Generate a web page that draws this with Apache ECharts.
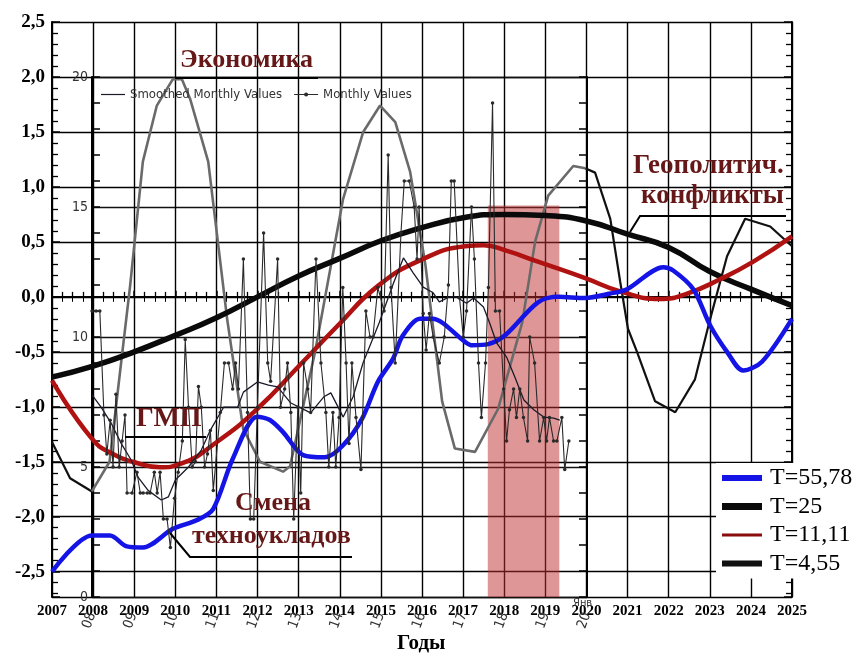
<!DOCTYPE html>
<html>
<head>
<meta charset="utf-8">
<script src="https://cdn.jsdelivr.net/npm/echarts@6.0.0/dist/echarts.min.js"></script>
<style>
  html, body { margin: 0; background: #fff; }
  #main { width: 856px; height: 657px; }
</style>
</head>
<body>
<div id="main"></div>
<script>
let chart = echarts.init(document.getElementById('main'));

//гармоники (основная шкала)
let t5578Years = [2007, 2007.97, 2008.41, 2008.82, 2009.21, 2009.94, 2010.53, 2010.92, 2011.4, 2011.99, 2012.3, 2012.62, 2013.11, 2013.64, 2014.08, 2014.54, 2014.93, 2015.3, 2015.52, 2015.95, 2016.25, 2017.05, 2017.22, 2017.61, 2018.02, 2018.82, 2019.31, 2019.97, 2020.58, 2020.99, 2021.87, 2022.11, 2022.6, 2023.01, 2023.42, 2023.81, 2024.27, 2025];
let t5578Vals = [-2.5, -2.17, -2.17, -2.27, -2.28, -2.11, -2.03, -1.93, -1.47, -1.09, -1.12, -1.23, -1.44, -1.46, -1.35, -1.11, -0.77, -0.56, -0.36, -0.2, -0.2, -0.41, -0.44, -0.43, -0.35, -0.05, 0.0, -0.01, 0.03, 0.07, 0.27, 0.24, 0.07, -0.26, -0.5, -0.67, -0.59, -0.2];

let t25Years = [2007, 2008, 2009, 2010, 2011, 2012, 2013, 2014, 2015, 2016, 2017, 2018, 2019, 2020, 2021, 2022, 2023, 2024, 2025];
let t25Vals = [-0.73, -0.63, -0.5, -0.35, -0.19, 0.0, 0.19, 0.35, 0.51, 0.63, 0.72, 0.75, 0.74, 0.69, 0.57, 0.45, 0.23, 0.07, -0.08];

let t1111Years = [2007, 2007.97, 2008.48, 2008.97, 2009.63, 2010.12, 2011.01, 2011.99, 2013.03, 2013.93, 2014.93, 2016.0, 2017.05, 2017.5, 2018.05, 2018.82, 2019.97, 2020.82, 2021.79, 2022.45, 2023.25, 2024.06, 2025];
let t1111Vals = [-0.76, -1.29, -1.43, -1.5, -1.55, -1.52, -1.32, -1.02, -0.62, -0.27, 0.1, 0.34, 0.46, 0.47, 0.42, 0.32, 0.17, 0.05, -0.02, 0.03, 0.16, 0.32, 0.55];

let t455Years = [2007, 2007.44, 2007.97, 2008.4, 2008.9, 2009.21, 2009.55, 2009.94, 2010.16, 2010.36, 2010.8, 2011.26, 2011.65, 2012.06, 2012.62, 2012.79, 2013.4, 2014.08, 2014.57, 2014.98, 2015.35, 2015.71, 2016.08, 2016.49, 2016.8, 2017.29, 2017.85, 2018.44, 2018.75, 2019.07, 2019.68, 2019.97, 2020.21, 2020.58, 2020.82, 2021.01, 2021.23, 2021.67, 2022.16, 2022.64, 2023.01, 2023.42, 2023.86, 2024.47, 2025];
let t455Vals = [-1.32, -1.65, -1.77, -1.5, 0.1, 1.23, 1.74, 1.98, 1.98, 1.8, 1.23, -0.2, -1.2, -1.5, -1.59, -1.54, -0.5, 0.89, 1.5, 1.74, 1.59, 1.14, 0.3, -0.95, -1.38, -1.41, -1.02, -0.23, 0.5, 0.92, 1.19, 1.17, 1.13, 0.71, 0.14, -0.29, -0.5, -0.95, -1.05, -0.75, -0.2, 0.37, 0.71, 0.64, 0.46];

//вставка: месячные значения (шкала 0..20)
let smoothYears = [2008.0, 2008.22, 2008.46, 2008.71, 2008.95, 2009.12, 2009.36, 2009.68, 2009.85, 2010.02, 2010.34, 2010.65, 2010.87, 2011.19, 2011.53, 2011.67, 2012.01, 2012.28, 2012.5, 2012.82, 2013.3, 2013.62, 2013.79, 2014.09, 2014.33, 2014.57, 2014.96, 2015.31, 2015.55, 2015.79, 2016.03, 2016.27, 2016.42, 2016.66, 2016.83, 2017.08, 2017.25, 2017.49, 2017.64, 2017.81, 2018.05, 2018.25, 2018.47, 2018.71, 2018.95, 2019.19, 2019.34];
let smoothVals = [7.77, 7.3, 6.7, 5.9, 5.27, 4.6, 4.1, 3.73, 3.85, 4.5, 5.0, 5.65, 6.42, 7.3, 7.3, 7.88, 8.27, 8.15, 8.08, 7.46, 7.08, 7.7, 7.85, 6.92, 7.7, 9.0, 10.54, 12.08, 13.04, 12.46, 11.92, 11.7, 11.35, 11.54, 11.54, 11.3, 11.5, 11.15, 10.54, 9.77, 9.23, 8.46, 7.58, 7.2, 6.92, 6.88, 6.8];

let monthYears = [2008.0, 2008.1, 2008.19, 2008.29, 2008.36, 2008.44, 2008.51, 2008.58, 2008.66, 2008.73, 2008.8, 2008.85, 2008.97, 2009.09, 2009.17, 2009.24, 2009.34, 2009.41, 2009.51, 2009.58, 2009.65, 2009.73, 2009.82, 2009.9, 2010.0, 2010.09, 2010.19, 2010.26, 2010.34, 2010.43, 2010.51, 2010.58, 2010.65, 2010.73, 2010.8, 2010.87, 2010.94, 2011.11, 2011.21, 2011.31, 2011.41, 2011.48, 2011.55, 2011.67, 2011.77, 2011.84, 2011.92, 2012.01, 2012.16, 2012.26, 2012.33, 2012.5, 2012.57, 2012.67, 2012.74, 2012.82, 2012.89, 2012.99, 2013.06, 2013.13, 2013.23, 2013.3, 2013.43, 2013.55, 2013.67, 2013.74, 2013.84, 2013.91, 2013.99, 2014.08, 2014.16, 2014.23, 2014.3, 2014.4, 2014.52, 2014.64, 2014.74, 2014.81, 2014.93, 2015.08, 2015.18, 2015.25, 2015.35, 2015.49, 2015.57, 2015.69, 2015.81, 2015.88, 2015.93, 2016.03, 2016.1, 2016.18, 2016.27, 2016.42, 2016.54, 2016.64, 2016.71, 2016.78, 2016.91, 2017.0, 2017.08, 2017.2, 2017.27, 2017.37, 2017.44, 2017.54, 2017.61, 2017.71, 2017.78, 2017.88, 2017.98, 2018.05, 2018.12, 2018.22, 2018.29, 2018.37, 2018.46, 2018.56, 2018.61, 2018.73, 2018.85, 2018.95, 2019.02, 2019.09, 2019.19, 2019.27, 2019.39, 2019.46, 2019.56];
let monthVals = [11.0, 11.0, 11.0, 7.0, 5.5, 6.8, 5.0, 7.8, 5.0, 6.0, 7.0, 4.0, 4.0, 4.8, 4.0, 4.0, 4.0, 4.0, 4.8, 4.0, 4.8, 3.0, 3.0, 1.9, 3.8, 4.8, 6.0, 9.9, 7.3, 5.0, 5.2, 8.1, 7.3, 5.0, 5.5, 6.4, 4.1, 7.1, 9.0, 9.0, 8.0, 9.0, 8.0, 13.0, 7.1, 3.0, 3.0, 7.3, 14.0, 9.0, 8.3, 13.0, 7.3, 8.0, 9.0, 7.1, 3.0, 7.3, 4.0, 9.0, 8.0, 7.1, 13.0, 9.0, 7.1, 5.0, 7.1, 5.0, 6.9, 11.9, 9.0, 5.9, 9.0, 6.9, 4.9, 11.0, 10.0, 10.0, 11.9, 11.0, 17.0, 11.9, 9.0, 14.0, 16.0, 16.0, 15.0, 13.0, 15.0, 10.9, 9.5, 10.9, 10.0, 9.0, 10.0, 12.0, 16.0, 16.0, 11.5, 10.0, 11.0, 15.0, 13.0, 9.0, 6.9, 9.0, 11.9, 19.0, 11.0, 11.0, 8.0, 6.0, 7.2, 8.0, 6.9, 8.0, 6.9, 6.0, 10.0, 9.0, 6.0, 6.9, 6.0, 6.9, 6.0, 6.0, 6.9, 4.9, 6.0];

//выделенный период
let bandFrom = 2017.6, bandTo = 2019.34, bandTop = 0.83;

function zip(xs, ys) {
    return xs.map((x, i) => [x, ys[i]]);
}

let t455 = zip(t455Years, t455Vals);
//чёрные участки (вне вставки) и серый участок (внутри вставки)
let t455Black = t455.filter(p => p[0] <= 2008).concat([[2014, null]], t455.filter(p => p[0] >= 2019.97));
let t455Gray = t455.filter(p => p[0] >= 2007.97 && p[0] <= 2019.97);

const serif = "'Liberation Serif', 'Times New Roman', serif";
const narrow = "'Liberation Sans Narrow', 'DejaVu Sans Condensed', sans-serif";
const annColor = '#661818';

//значки легенды: толстая линия нужной толщины
function bar(h) {
    return 'path://M0,0h40v' + h + 'h-40z';
}

function yFmt(v) {
    return v.toFixed(1).replace('.', ',');
}

let mainY = {
    gridIndex: 0, type: 'value', min: -2.73, max: 2.5,
    minInterval: 0.5, maxInterval: 0.5, splitNumber: 10,
    axisLine: {show: true, lineStyle: {color: '#000', width: 2}},
    axisTick: {show: true, inside: true, length: 8, lineStyle: {color: '#000', width: 1.5}},
    minorTick: {show: true, splitNumber: 5, length: 6, lineStyle: {color: '#000', width: 1.3}},
    splitLine: {show: true, lineStyle: {color: '#000', width: 1.3}}
};

let option = {
    backgroundColor: '#fff',
    animation: false,
    grid: [
        {left: 52, right: 64, top: 22, bottom: 60},
        {left: 92, right: 269, top: 77, bottom: 60}
    ],
    legend: [
        {
            data: [
                {name: 'T=55,78', icon: bar(6)},
                {name: 'T=25', icon: bar(7)},
                {name: 'T=11,11', icon: bar(3)},
                {name: 'T=4,55', icon: bar(6)}
            ],
            orient: 'vertical',
            left: 716, top: 463,
            padding: [3, 2, 3, 6],
            backgroundColor: '#fff',
            itemWidth: 40, itemHeight: 24, itemGap: 4.5,
            selectedMode: false,
            z: 20,
            textStyle: {fontFamily: serif, fontSize: 24, color: '#000', padding: [0, 0, 0, 3]}
        },
        {
            data: [
                {name: 'Smoothed Monthly Values', icon: 'path://M0,5.4H24V6.6H0Z'},
                {name: 'Monthly Values', icon: 'path://M0,5.4H24V6.6H0Z M14,6A2,2 0 1 1 10,6A2,2 0 1 1 14,6Z'}
            ],
            left: 96, top: 83,
            itemWidth: 24, itemHeight: 12, itemGap: 12,
            selectedMode: false,
            textStyle: {fontFamily: narrow, fontSize: 13, color: '#333'}
        }
    ],
    xAxis: [
        {
            gridIndex: 0, type: 'value', min: 2007, max: 2025, interval: 1,
            axisLine: {show: true, lineStyle: {color: '#000', width: 2}},
            axisTick: {show: true, inside: true, length: 6, lineStyle: {color: '#000', width: 1.5}},
            minorTick: {show: true, splitNumber: 4, length: 5, lineStyle: {color: '#000', width: 1.3}},
            splitLine: {show: true, lineStyle: {color: '#000', width: 1.4}},
            axisLabel: {
                formatter: v => String(v), margin: 7,
                fontFamily: serif, fontWeight: 'bold', fontSize: 15, color: '#000'
            }
        },
        {
            gridIndex: 0, type: 'value', position: 'top', min: 2007, max: 2025, interval: 1,
            axisLine: {show: true, lineStyle: {color: '#000', width: 2}},
            axisTick: {show: true, inside: true, length: 6, lineStyle: {color: '#000'}},
            minorTick: {show: true, splitNumber: 4, length: 5, lineStyle: {color: '#000'}},
            splitLine: {show: false},
            axisLabel: {show: false}
        },
        {
            gridIndex: 1, type: 'value', min: 2008, max: 2020, interval: 1,
            axisLine: {show: false},
            axisTick: {show: false},
            splitLine: {show: false},
            axisLabel: {
                formatter: v => String(v).slice(2), rotate: 70, margin: 16,
                fontFamily: narrow, fontSize: 14, color: '#333'
            }
        }
    ],
    yAxis: [
        Object.assign({}, mainY, {
            axisLabel: {
                formatter: yFmt, showMinLabel: false, margin: 7,
                fontFamily: serif, fontWeight: 'bold', fontSize: 19, color: '#000'
            }
        }),
        Object.assign({}, mainY, {position: 'right', splitLine: {show: false}, axisLabel: {show: false}}),
        {
            gridIndex: 1, type: 'value', min: 0, max: 20, interval: 5,
            axisLine: {show: true, lineStyle: {color: '#000', width: 2}},
            axisTick: {show: true, inside: true, length: 8, lineStyle: {color: '#000', width: 1.5}},
            minorTick: {show: true, splitNumber: 5, length: 8, lineStyle: {color: '#000', width: 1.5}},
            splitLine: {show: true, lineStyle: {color: '#111', width: 1.4}},
            axisLabel: {margin: 4, fontFamily: narrow, fontSize: 14, color: '#333'}
        },
        {
            gridIndex: 1, type: 'value', position: 'right', min: 0, max: 20, interval: 5,
            axisLine: {show: true, lineStyle: {color: '#000', width: 2}},
            axisTick: {show: true, inside: true, length: 8, lineStyle: {color: '#000', width: 1.5}},
            minorTick: {show: true, splitNumber: 5, length: 8, lineStyle: {color: '#000', width: 1.5}},
            splitLine: {show: false},
            axisLabel: {show: false}
        }
    ],
    series: [
        {
            name: 'T=4,55', type: 'line', xAxisIndex: 0, yAxisIndex: 0,
            data: t455Black, symbol: 'none', z: 3,
            lineStyle: {color: '#111', width: 2.2}, itemStyle: {color: '#111'}
        },
        {
            name: 'T=4,55', type: 'line', xAxisIndex: 0, yAxisIndex: 0,
            data: t455Gray, symbol: 'none', z: 3,
            lineStyle: {color: '#6a6a6a', width: 2.6}, itemStyle: {color: '#6a6a6a'}
        },
        {
            name: 'T=25', type: 'line', xAxisIndex: 0, yAxisIndex: 0,
            data: zip(t25Years, t25Vals), symbol: 'none', smooth: true, z: 4,
            lineStyle: {color: '#0a0a0a', width: 5.5}, itemStyle: {color: '#0a0a0a'}
        },
        {
            name: 'T=11,11', type: 'line', xAxisIndex: 0, yAxisIndex: 0,
            data: zip(t1111Years, t1111Vals), symbol: 'none', smooth: true, z: 4,
            lineStyle: {color: '#b01212', width: 4.5}, itemStyle: {color: '#8a0c0c'}
        },
        {
            name: 'T=55,78', type: 'line', xAxisIndex: 0, yAxisIndex: 0,
            data: zip(t5578Years, t5578Vals), symbol: 'none', smooth: 0.3, z: 4,
            lineStyle: {color: '#1414e6', width: 4.5}, itemStyle: {color: '#1414e6'}
        },
        {
            name: 'Smoothed Monthly Values', type: 'line', xAxisIndex: 2, yAxisIndex: 2,
            data: zip(smoothYears, smoothVals), symbol: 'none', z: 5,
            lineStyle: {color: '#1a1a2a', width: 1.3}, itemStyle: {color: '#1a1a2a'}
        },
        {
            name: 'Monthly Values', type: 'line', xAxisIndex: 2, yAxisIndex: 2,
            data: zip(monthYears, monthVals), symbol: 'circle', symbolSize: 3.5, showSymbol: true, z: 5,
            lineStyle: {color: '#2a2a2a', width: 1.1}, itemStyle: {color: '#2a2a2a'}
        },
        {
            name: 'band', type: 'line', xAxisIndex: 0, yAxisIndex: 0, data: [], z: 8,
            markArea: {
                silent: true,
                itemStyle: {color: 'rgba(190,45,45,0.5)'},
                data: [[{coord: [bandFrom, -2.73]}, {coord: [bandTo, bandTop]}]]
            }
        }
    ],
    graphic: [
        {type: 'text', left: 180, top: 47, z: 30, style: {text: 'Экономика', fontFamily: serif, fontWeight: 'bold', fontSize: 26, fill: annColor}},
        {type: 'line', z: 30, shape: {x1: 175, y1: 78, x2: 318, y2: 78}, style: {stroke: '#000', lineWidth: 2}},
        {type: 'text', left: 633, top: 153, z: 30, style: {text: 'Геополитич.', fontFamily: serif, fontWeight: 'bold', fontSize: 27, fill: annColor}},
        {type: 'text', left: 641, top: 183, z: 30, style: {text: 'конфликты', fontFamily: serif, fontWeight: 'bold', fontSize: 27, fill: annColor}},
        {type: 'polyline', z: 30, shape: {points: [[630, 232], [640, 216], [786, 216]]}, style: {stroke: '#000', lineWidth: 2, fill: null}},
        {type: 'text', left: 136, top: 405, z: 30, style: {text: 'ГМП', fontFamily: serif, fontWeight: 'bold', fontSize: 28, fill: annColor}},
        {type: 'line', z: 30, shape: {x1: 125, y1: 437, x2: 206, y2: 437}, style: {stroke: '#000', lineWidth: 2}},
        {type: 'text', left: 235, top: 490, z: 30, style: {text: 'Смена', fontFamily: serif, fontWeight: 'bold', fontSize: 26, fill: annColor}},
        {type: 'text', left: 192, top: 523, z: 30, style: {text: 'техноукладов', fontFamily: serif, fontWeight: 'bold', fontSize: 26, fill: annColor}},
        {type: 'polyline', z: 30, shape: {points: [[170, 533], [190, 557], [352, 557]]}, style: {stroke: '#000', lineWidth: 2, fill: null}},
        {type: 'text', left: 573, top: 598, z: 30, style: {text: 'Янв', fontFamily: narrow, fontSize: 11, fill: '#333'}},
        {type: 'text', left: 397, top: 633, z: 30, style: {text: 'Годы', fontFamily: serif, fontWeight: 'bold', fontSize: 21, fill: '#000'}}
    ]
};

chart.setOption(option);
</script>
</body>
</html>
